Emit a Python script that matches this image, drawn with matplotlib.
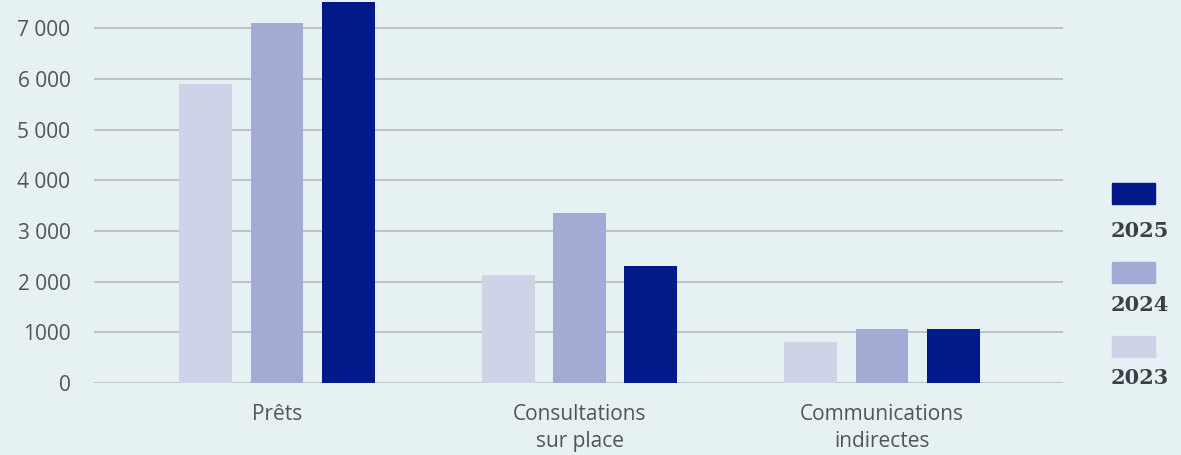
import numpy as np
import matplotlib.pyplot as plt
from matplotlib.patches import Rectangle

# data
categories = ['Prêts', 'Consultations\nsur place', 'Communications\nindirectes']
years = ['2023', '2024', '2025']
v2023 = [5900, 2130, 810]
v2024 = [7100, 3350, 1065]
v2025 = [7515, 2310, 1065]
yticks = [0, 1000, 2000, 3000, 4000, 5000, 6000, 7000]
ytick_labels = ['0', '1000', '2 000', '3 000', '4 000', '5 000', '6 000', '7 000']

colors = ['#CED3E8', '#A3ABD4', '#021989']
bg = '#E6F1F3'
txt = '#50555B'

plt.rcParams['font.family'] = ['Open Sans', 'DejaVu Sans']

fig = plt.figure(figsize=(11.81, 4.55), dpi=100, facecolor=bg)
ax = fig.add_axes([0.0796, 0.158, 0.8204, 0.842], facecolor=bg)

x = np.arange(len(categories))
w = 0.175
step = 0.235
for i, vals in enumerate([v2023, v2024, v2025]):
    ax.bar(x + (i - 1) * step, vals, width=w, color=colors[i], zorder=3)

ax.set_xlim(-0.605, 2.598)
ax.set_ylim(0, 7555)
ax.set_yticks(yticks)
ax.set_yticklabels(ytick_labels, fontsize=15, color=txt)
ax.set_xticks(x)
ax.set_xticklabels(categories, fontsize=15, color=txt, linespacing=1.35)
ax.tick_params(axis='both', length=0)
ax.tick_params(axis='y', pad=17)
ax.tick_params(axis='x', pad=15)
ax.grid(axis='y', color='#BEC3C7', linewidth=1.5, zorder=0)
for s in ax.spines.values():
    s.set_visible(False)

# legend: swatch above each year, newest on top
W, H = 1181., 455.
swatch_y = [336, 262, 183]
label_y = [378, 305, 231]
for i, yr in enumerate(years):
    fig.add_artist(Rectangle((1112 / W, 1 - (swatch_y[i] + 21) / H), 43 / W, 21 / H,
                             transform=fig.transFigure, color=colors[i]))
    fig.text(1111 / W, 1 - label_y[i] / H, yr, fontsize=15, fontweight='bold',
             family='DejaVu Serif', color='#3B4046', va='center', ha='left')

fig.savefig('out.png', dpi=100, facecolor=bg)
